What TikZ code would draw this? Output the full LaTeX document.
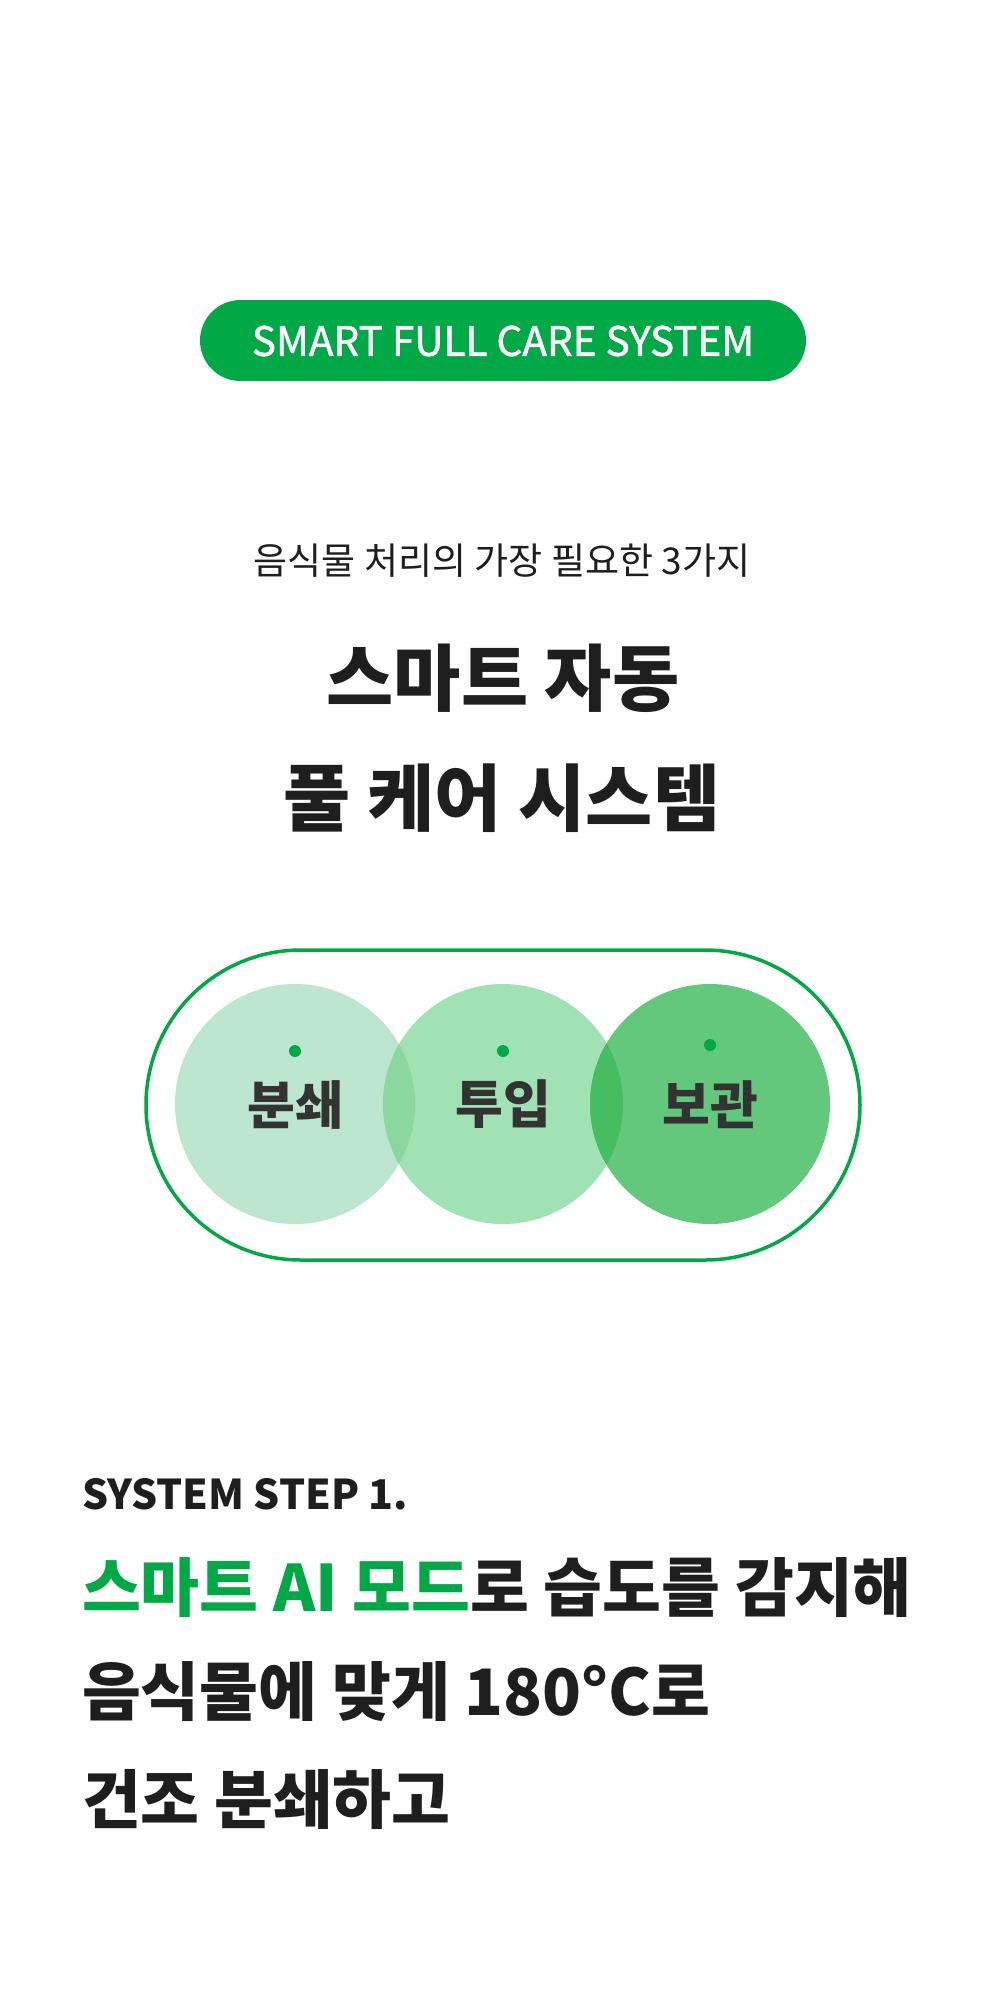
\documentclass[tikz,border=0pt]{standalone}
\usepackage{fontspec}
\setmainfont{Noto Sans CJK KR}
\definecolor{brand}{HTML}{00A846}
\definecolor{ink}{HTML}{1E1E1E}
\definecolor{labelink}{HTML}{333333}
\definecolor{cOne}{HTML}{BCE6CF}
\definecolor{cTwo}{HTML}{A0E2B3}
\definecolor{cThree}{HTML}{64C87C}
\definecolor{oOneTwo}{HTML}{8AD8A0}
\definecolor{oTwoThree}{HTML}{45BE62}
\tikzset{
  txt/.style={inner sep=0pt, outer sep=0pt, text=ink},
  blob/.style={circle, inner sep=0pt, minimum size=240pt, draw=none},
  dotmark/.style={circle, inner sep=0pt, minimum size=12pt, fill=brand, draw=none},
  lbl/.style={inner sep=0pt, text=labelink, font=\fontsize{52}{60}\selectfont\bfseries},
}
\begin{document}
\begin{tikzpicture}[x=1pt,y=-1pt]
\useasboundingbox[fill=white] (0,0) rectangle (1000,1998);
% badge
\fill[brand, rounded corners=40.5pt] (200,300) rectangle (806,381);
\node[txt, text=white, font=\fontsize{40.5}{46}\selectfont\addfontfeature{FakeBold=1.2}] (badge) at (503,341) {SMART FULL CARE SYSTEM};
% heading
\node[txt, font=\fontsize{37}{44}\selectfont] (sub) at (502,561) {음식물 처리의 가장 필요한 3가지};
\node[txt, font=\fontsize{73}{86}\selectfont\bfseries] (t1) at (503,678.5) {스마트 자동};
\node[txt, font=\fontsize{73}{86}\selectfont\bfseries] (t2) at (502,798.5) {풀 케어 시스템};
% capsule
\draw[brand, line width=3.5pt, rounded corners=155pt] (146,950) rectangle (860,1260);
% circles
\node[blob, fill=cOne] (c1) at (295,1104) {};
\node[blob, fill=cTwo] (c2) at (503,1104) {};
\node[blob, fill=cThree] (c3) at (710,1104) {};
\begin{scope}
  \clip (c1.center) circle (120pt);
  \fill[oOneTwo] (c2.center) circle (120pt);
\end{scope}
\begin{scope}
  \clip (c2.center) circle (120pt);
  \fill[oTwoThree] (c3.center) circle (120pt);
\end{scope}
\node[dotmark] (d1) at (295,1051) {};
\node[dotmark] (d2) at (503,1051) {};
\node[dotmark] (d3) at (710,1045) {};
\node[lbl] (l1) at (295,1104.5) {분쇄};
\node[lbl] (l2) at (503,1104.5) {투입};
\node[lbl] (l3) at (710,1105) {보관};
% step text
\node[txt, anchor=west, font=\fontsize{41}{48}\selectfont\bfseries] (step) at (82,1494) {SYSTEM STEP 1.};
\node[txt, anchor=west, font=\fontsize{64}{76}\selectfont\bfseries] (s1) at (82,1587.5) {\textcolor{brand}{스마트 AI 모드}로 습도를 감지해};
\node[txt, anchor=west, font=\fontsize{64}{76}\selectfont\bfseries] (s2) at (82,1692) {음식물에 맞게 180°C로};
\node[txt, anchor=west, font=\fontsize{64}{76}\selectfont\bfseries] (s3) at (82,1799.5) {건조 분쇄하고};
\end{tikzpicture}
\end{document}
